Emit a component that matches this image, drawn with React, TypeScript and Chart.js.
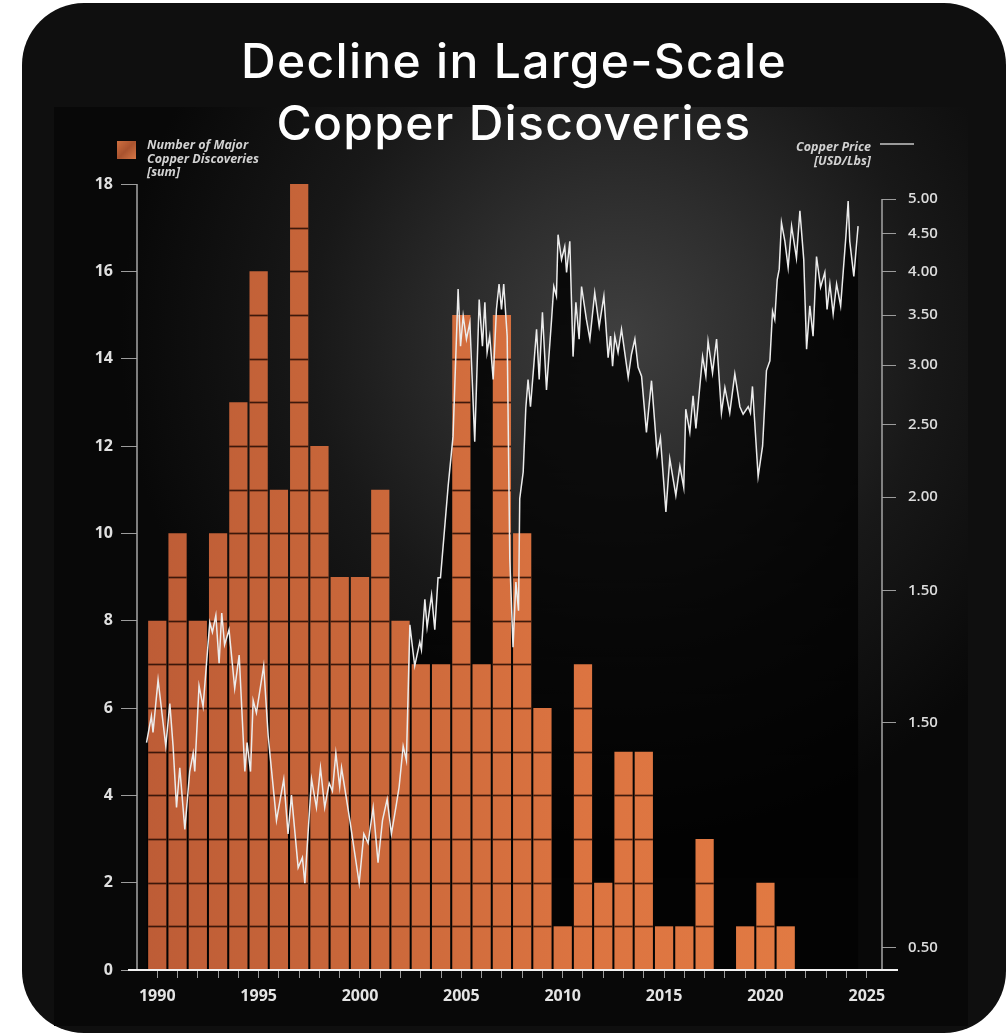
import React, { useEffect, useRef } from "react";
import { Chart, registerables } from "chart.js";

Chart.register(...registerables);

// Yearly count of major copper discoveries
const discoveryYears = [
  1990, 1991, 1992, 1993, 1994, 1995, 1996, 1997, 1998, 1999, 2000,
  2001, 2002, 2003, 2004, 2005, 2006, 2007, 2008, 2009, 2010, 2011,
  2012, 2013, 2014, 2015, 2016, 2017, 2018, 2019, 2020, 2021,
];
const discoveryCounts = [
  8, 10, 8, 10, 13, 16, 11, 18, 12, 9, 9,
  11, 8, 7, 7, 15, 7, 15, 10, 6, 1, 7,
  2, 5, 5, 1, 1, 3, 0, 1, 2, 1,
];

// Copper price, USD per pound (decimal year -> price)
const priceDates = [
  1989.47, 1989.71, 1989.79, 1990.04, 1990.42, 1990.62, 1990.78, 1990.95, 1991.11, 1991.36,
  1991.6, 1991.77, 1991.85, 1992.06, 1992.26, 1992.59, 1992.72, 1992.89, 1993.05, 1993.18,
  1993.32, 1993.54, 1993.82, 1994.04, 1994.32, 1994.43, 1994.6, 1994.73, 1994.89, 1995.25,
  1995.47, 1995.88, 1996.24, 1996.45, 1996.62, 1996.95, 1997.16, 1997.28, 1997.36, 1997.61,
  1997.85, 1998.05, 1998.26, 1998.48, 1998.64, 1998.81, 1999.0, 1999.09, 1999.5, 1999.96,
  2000.19, 2000.4, 2000.65, 2000.89, 2001.11, 2001.34, 2001.55, 2001.77, 2001.93, 2002.13,
  2002.29, 2002.46, 2002.62, 2002.7, 2002.95, 2003.03, 2003.2, 2003.31, 2003.53, 2003.69,
  2003.85, 2003.97, 2004.35, 2004.59, 2004.84, 2004.96, 2005.09, 2005.25, 2005.42, 2005.66,
  2005.88, 2006.04, 2006.16, 2006.27, 2006.4, 2006.57, 2006.73, 2006.86, 2006.98, 2007.09,
  2007.26, 2007.39, 2007.55, 2007.69, 2007.82, 2007.88, 2008.05, 2008.18, 2008.29, 2008.41,
  2008.57, 2008.71, 2008.84, 2009.0, 2009.2, 2009.45, 2009.56, 2009.69, 2009.77, 2009.94,
  2010.1, 2010.19, 2010.35, 2010.51, 2010.65, 2010.81, 2010.93, 2011.17, 2011.34, 2011.58,
  2011.8, 2012.03, 2012.24, 2012.36, 2012.46, 2012.57, 2012.73, 2012.9, 2013.23, 2013.39,
  2013.56, 2013.72, 2013.89, 2014.13, 2014.38, 2014.66, 2014.82, 2015.09, 2015.28, 2015.58,
  2015.78, 2015.97, 2016.07, 2016.27, 2016.43, 2016.57, 2016.9, 2017.06, 2017.17, 2017.39,
  2017.59, 2017.83, 2018.0, 2018.24, 2018.49, 2018.74, 2018.9, 2019.15, 2019.26, 2019.36,
  2019.64, 2019.86, 2020.05, 2020.22, 2020.35, 2020.46, 2020.58, 2020.68, 2020.79, 2020.96,
  2021.12, 2021.29, 2021.53, 2021.7, 2021.89, 2022.03, 2022.19, 2022.35, 2022.52, 2022.72,
  2022.93, 2023.04, 2023.18, 2023.34, 2023.51, 2023.71, 2023.84, 2023.97, 2024.08, 2024.16,
  2024.36, 2024.57,
];
const priceValues = [
  0.94, 1.02, 0.97, 1.14, 0.93, 1.06, 0.93, 0.77, 0.87, 0.72,
  0.86, 0.91, 0.86, 1.12, 1.05, 1.36, 1.32, 1.39, 1.2, 1.4,
  1.27, 1.33, 1.11, 1.23, 0.86, 0.94, 0.86, 1.07, 1.03, 1.19,
  0.96, 0.74, 0.84, 0.71, 0.8, 0.64, 0.66, 0.61, 0.66, 0.84,
  0.77, 0.87, 0.77, 0.83, 0.81, 0.91, 0.82, 0.87, 0.74, 0.61,
  0.71, 0.69, 0.77, 0.65, 0.74, 0.79, 0.71, 0.77, 0.82, 0.93,
  0.89, 1.35, 1.24, 1.19, 1.28, 1.25, 1.46, 1.34, 1.48, 1.33,
  1.56, 1.56, 2.07, 2.41, 3.79, 3.18, 3.49, 3.25, 3.42, 2.37,
  3.67, 3.18, 3.64, 3.12, 3.28, 2.87, 3.56, 3.85, 3.56, 3.85,
  3.28, 1.65, 1.26, 1.54, 1.41, 1.99, 2.16, 2.63, 2.87, 2.64,
  2.99, 3.35, 2.87, 3.53, 2.78, 3.45, 3.82, 3.71, 4.48, 4.15,
  4.32, 3.99, 4.39, 3.08, 3.64, 3.25, 3.82, 3.45, 3.25, 3.75,
  3.38, 3.71, 3.07, 3.28, 2.99, 3.28, 3.12, 3.35, 2.89, 3.1,
  3.25, 2.98, 2.9, 2.44, 2.86, 2.28, 2.4, 1.91, 2.25, 2.01,
  2.2, 2.06, 2.62, 2.44, 2.73, 2.47, 3.08, 2.9, 3.23, 2.93,
  3.25, 2.59, 2.8, 2.59, 2.92, 2.64, 2.58, 2.64, 2.59, 2.81,
  2.13, 2.34, 2.95, 3.04, 3.54, 3.45, 3.9, 4.03, 4.65, 4.39,
  4.05, 4.6, 4.17, 4.82, 4.15, 3.15, 3.6, 3.28, 4.19, 3.81,
  3.99, 3.56, 3.85, 3.51, 3.85, 3.6, 4.01, 4.46, 4.97, 4.39,
  3.94, 4.6,
];

// Axis ticks
const countTicks = [0, 2, 4, 6, 8, 10, 12, 14, 16, 18];
const priceTickValues = [0.5, 1, 1.5, 2, 2.5, 3, 3.5, 4, 4.5, 5];
const priceTickLabels = ["0.50", "1.50", "1.50", "2.00", "2.50", "3.00", "3.50", "4.00", "4.50", "5.00"];
const yearLabels = [1990, 1995, 2000, 2005, 2010, 2015, 2020, 2025];
const yearTicks = Array.from({ length: 36 }, (_, i) => 1990 + i);

const TICK_FONT = "'Open Sans', 'DejaVu Sans', sans-serif";

// Dark seams across every unit of each bar, drawn before the price line
const brickLines = {
  id: "brickLines",
  afterDatasetDraw(chart: any, args: any) {
    if (args.index !== 0) return;
    const ctx = chart.ctx;
    const ys = chart.scales.y;
    ctx.save();
    ctx.strokeStyle = "rgba(42,14,4,0.88)";
    ctx.lineWidth = 1.7;
    args.meta.data.forEach((el: any, i: number) => {
      const v = discoveryCounts[i];
      const { x, width } = el.getProps(["x", "width"], true);
      for (let k = 1; k < v; k++) {
        const py = Math.round(ys.getPixelForValue(k)) + 0.5;
        ctx.beginPath();
        ctx.moveTo(x - width / 2, py);
        ctx.lineTo(x + width / 2, py);
        ctx.stroke();
      }
    });
    ctx.restore();
  },
};

// Axis lines with their own extents
const axisLines = {
  id: "axisLines",
  afterDraw(chart: any) {
    const ctx = chart.ctx;
    const a = chart.chartArea;
    const ys = chart.scales.y;
    const yp = chart.scales.y2;
    ctx.save();
    ctx.strokeStyle = "#a6a6a6";
    ctx.lineWidth = 1.5;
    ctx.beginPath();
    ctx.moveTo(a.left, ys.getPixelForValue(18));
    ctx.lineTo(a.left, a.bottom);
    ctx.stroke();
    ctx.beginPath();
    ctx.moveTo(a.right, yp.getPixelForValue(5));
    ctx.lineTo(a.right, a.bottom);
    ctx.stroke();
    ctx.strokeStyle = "#f2f2f2";
    ctx.lineWidth = 2;
    ctx.beginPath();
    ctx.moveTo(a.left - 9, a.bottom);
    ctx.lineTo(a.right + 16, a.bottom);
    ctx.stroke();
    ctx.restore();
  },
};

function copperFill(context: any) {
  const { chart } = context;
  const a = chart.chartArea;
  if (!a) return "#cc6a3c";
  const g = chart.ctx.createLinearGradient(a.left, 0, a.right, 0);
  g.addColorStop(0, "#bd5c36");
  g.addColorStop(0.3, "#c9673a");
  g.addColorStop(0.6, "#dc7441");
  g.addColorStop(1, "#e37c43");
  return g;
}

function shadeFill(context: any) {
  const { chart } = context;
  const a = chart.chartArea;
  if (!a) return "rgba(0,0,0,0.7)";
  const g = chart.ctx.createLinearGradient(0, a.top, 0, a.bottom);
  g.addColorStop(0, "rgba(0,0,0,0.85)");
  g.addColorStop(1, "rgba(0,0,0,0.6)");
  return g;
}

export default function App() {
  const canvasRef = useRef<HTMLCanvasElement>(null);

  useEffect(() => {
    const canvas = canvasRef.current;
    if (!canvas) return;
    const bars = discoveryYears.map((yr, i) => ({ x: yr, y: discoveryCounts[i] }));
    const prices = priceDates.map((d, i) => ({ x: d, y: priceValues[i] }));

    const chart = new Chart(canvas, {
      type: "bar",
      data: {
        datasets: [
          {
            type: "bar",
            label: "Number of Major Copper Discoveries [sum]",
            data: bars,
            xAxisID: "x",
            yAxisID: "y",
            backgroundColor: copperFill,
            borderWidth: 0,
            barPercentage: 0.9,
            categoryPercentage: 1,
            order: 2,
          } as any,
          {
            type: "line",
            label: "Copper Price [USD/Lbs]",
            data: prices,
            xAxisID: "x",
            yAxisID: "y2",
            borderColor: "#ececec",
            borderWidth: 1.5,
            pointRadius: 0,
            tension: 0,
            fill: "start",
            backgroundColor: shadeFill,
            order: 1,
          } as any,
        ],
      },
      options: {
        responsive: false,
        animation: false,
        devicePixelRatio: 1,
        layout: { padding: { left: 0, right: 0, top: 77, bottom: 0 } },
        plugins: {
          legend: { display: false },
          tooltip: { enabled: false },
          filler: { drawTime: "beforeDatasetsDraw" },
        },
        scales: {
          x: {
            type: "linear",
            min: 1989,
            max: 2025.75,
            offset: false,
            afterBuildTicks: (s: any) => {
              s.ticks = yearTicks.map((v) => ({ value: v }));
            },
            afterFit: (s: any) => {
              s.height = 56;
            },
            border: { display: false },
            grid: {
              offset: false,
              drawOnChartArea: false,
              drawTicks: true,
              tickLength: 8,
              color: "#9c9c9c",
              lineWidth: 1,
            },
            ticks: {
              autoSkip: false,
              maxRotation: 0,
              padding: 9,
              color: "#e4e4e4",
              font: { family: TICK_FONT, size: 16, weight: "bold" },
              callback: (v: any) => (yearLabels.includes(Number(v)) ? String(v) : ""),
            },
          },
          y: {
            type: "linear",
            position: "left",
            min: 0,
            max: 18,
            afterBuildTicks: (s: any) => {
              s.ticks = countTicks.map((v) => ({ value: v }));
            },
            afterFit: (s: any) => {
              s.width = 83;
            },
            border: { display: false },
            grid: {
              drawOnChartArea: false,
              tickLength: 16,
              color: "#9c9c9c",
              lineWidth: 1,
            },
            ticks: {
              padding: 8,
              color: "#e0e0e0",
              font: { family: TICK_FONT, size: 16, weight: "bold" },
              callback: (v: any) => String(v),
            },
          },
          y2: {
            type: "logarithmic",
            position: "right",
            min: 0.4672,
            max: 5.236,
            afterBuildTicks: (s: any) => {
              s.ticks = priceTickValues.map((v) => ({ value: v }));
            },
            afterFit: (s: any) => {
              s.width = 86;
            },
            border: { display: false },
            grid: {
              drawOnChartArea: false,
              tickLength: 14,
              color: "#9c9c9c",
              lineWidth: 1,
            },
            ticks: {
              autoSkip: false,
              padding: 12,
              color: "#dcdcdc",
              font: { family: TICK_FONT, size: 15, weight: "600" },
              callback: (_v: any, i: number) => priceTickLabels[i],
            },
          },
        },
      } as any,
      plugins: [brickLines, axisLines],
    });

    return () => chart.destroy();
  }, []);

  const legendText: React.CSSProperties = {
    position: "absolute",
    fontFamily: TICK_FONT,
    fontStyle: "italic",
    fontWeight: 700,
    fontSize: 12.5,
    lineHeight: "13.5px",
    color: "#d2d2d2",
    whiteSpace: "nowrap",
  };

  return (
    <div
      style={{
        position: "fixed",
        left: 0,
        top: 0,
        width: 1007,
        height: 1035,
        background: "#ffffff",
        overflow: "hidden",
      }}
    >
      <div
        style={{
          position: "absolute",
          left: 22,
          top: 3,
          width: 984,
          height: 1030,
          borderRadius: 62,
          background: "#0f0f0f",
        }}
      />
      <div
        style={{
          position: "absolute",
          left: 54,
          top: 107,
          width: 914,
          height: 919,
          background:
            "radial-gradient(circle 500px at 566px 230px, #3f3f3f 0%, #2d2d2d 30%, #181818 62%, #080808 100%)",
        }}
      />
      <canvas
        ref={canvasRef}
        width={914}
        height={919}
        style={{ position: "absolute", left: 54, top: 107, width: 914, height: 919 }}
      />
      <div
        style={{
          position: "absolute",
          left: 22,
          top: 30,
          width: 984,
          textAlign: "center",
          fontFamily: "Inter, 'Noto Sans', sans-serif",
          fontWeight: 500,
          fontSize: 48,
          letterSpacing: "1.3px",
          lineHeight: "62px",
          color: "#ffffff",
        }}
      >
        Decline in Large-Scale
        <br />
        Copper Discoveries
      </div>
      <div
        style={{
          position: "absolute",
          left: 117,
          top: 141,
          width: 19,
          height: 18,
          background: "linear-gradient(135deg, #cf6f40 0%, #a9532f 50%, #d77746 100%)",
        }}
      />
      <div style={{ ...legendText, left: 147, top: 138 }}>
        Number of Major
        <br />
        Copper Discoveries
        <br />
        [sum]
      </div>
      <div style={{ ...legendText, left: 740, width: 131, top: 140, textAlign: "right" }}>
        Copper Price
        <br />
        [USD/Lbs]
      </div>
      <div
        style={{
          position: "absolute",
          left: 880,
          top: 143,
          width: 34,
          height: 1.5,
          background: "#9a9a9a",
        }}
      />
    </div>
  );
}
